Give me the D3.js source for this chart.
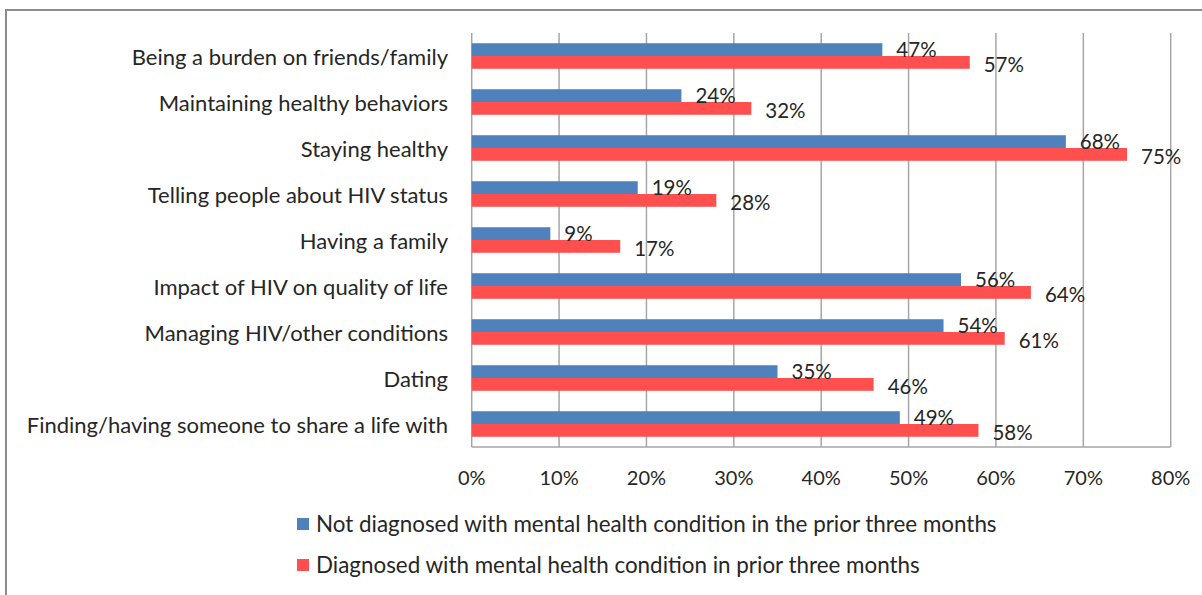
<!DOCTYPE html>
<html>
<head>
<meta charset="utf-8">
<title>Concerns by mental health diagnosis</title>
<script src="https://cdn.jsdelivr.net/npm/d3@7"></script>
<style>
    body { margin: 0; background: #fff; }
    text { font-family: Lato, "Open Sans", sans-serif; fill: #262626; }
</style>
</head>
<body>
<div id="chart"></div>
<script>
// chart data
var categories = [
    "Being a burden on friends/family",
    "Maintaining healthy behaviors",
    "Staying healthy",
    "Telling people about HIV status",
    "Having a family",
    "Impact of HIV on quality of life",
    "Managing HIV/other conditions",
    "Dating",
    "Finding/having someone to share a life with"
];
var notDiagnosed = [47, 24, 68, 19, 9, 56, 54, 35, 49];
var diagnosed = [57, 32, 75, 28, 17, 64, 61, 46, 58];
var seriesNames = [
    "Not diagnosed with mental health condition in the prior three months",
    "Diagnosed with mental health condition in prior three months"
];
var xTicks = [0, 10, 20, 30, 40, 50, 60, 70, 80];

var colors = ["#4F81BD", "#FF4F4F"];
var W = 1202, H = 595;

var svg = d3.select("#chart").append("svg")
    .attr("width", W)
    .attr("height", H);

// outer frame (runs off right and bottom edges like the original)
svg.append("rect")
    .attr("x", 6).attr("y", 10)
    .attr("width", W + 10).attr("height", H + 10)
    .attr("fill", "none")
    .attr("stroke", "#8c8c8c")
    .attr("stroke-width", 2);

var x = d3.scaleLinear().domain([0, 80]).range([471.7, 1170.7]);
var y = d3.scaleBand().domain(categories).range([33, 447])
    .paddingInner(0.8 / 1.8).paddingOuter(0.4 / 1.8);
var ySub = d3.scaleBand().domain([0, 1]).range([0, y.bandwidth()]);

// gridlines
svg.append("g").selectAll("line")
    .data(xTicks)
    .enter().append("line")
    .attr("x1", function(d) { return x(d); })
    .attr("x2", function(d) { return x(d); })
    .attr("y1", 33).attr("y2", 447)
    .attr("stroke", "#a6a6a6")
    .attr("stroke-width", 1.5);

// bottom axis line + labels
svg.append("line")
    .attr("x1", x(0)).attr("x2", x(80))
    .attr("y1", 447).attr("y2", 447)
    .attr("stroke", "#a6a6a6").attr("stroke-width", 1.5);

svg.append("g").selectAll("text")
    .data(xTicks)
    .enter().append("text")
    .attr("x", function(d) { return x(d); })
    .attr("y", 480)
    .attr("text-anchor", "middle")
    .attr("dominant-baseline", "middle")
    .style("font-size", "20px")
    .text(function(d) { return d + "%"; });

// category labels
svg.append("g").selectAll("text")
    .data(categories)
    .enter().append("text")
    .attr("x", 448)
    .attr("y", function(d) { return y(d) + y.bandwidth() / 2 + 3; })
    .attr("text-anchor", "end")
    .attr("dominant-baseline", "middle")
    .style("font-size", "22px")
    .text(function(d) { return d; });

var series = [notDiagnosed, diagnosed];

// bars first
series.forEach(function(vals, s) {
    svg.append("g").selectAll("rect")
        .data(vals)
        .enter().append("rect")
        .attr("x", x(0))
        .attr("y", function(d, i) { return y(categories[i]) + ySub(s); })
        .attr("width", function(d) { return x(d) - x(0); })
        .attr("height", ySub.bandwidth())
        .attr("fill", colors[s]);
});

// then value labels on top
series.forEach(function(vals, s) {
    svg.append("g").selectAll("text")
        .data(vals)
        .enter().append("text")
        .attr("x", function(d) { return x(d) + 14; })
        .attr("y", function(d, i) { return y(categories[i]) + ySub(s) + ySub.bandwidth() / 2 + (s ? 4 : 2); })
        .attr("dominant-baseline", "middle")
        .style("font-size", "20.5px")
        .text(function(d) { return d + "%"; });
});

// legend
var legend = svg.append("g").selectAll("g")
    .data(seriesNames)
    .enter().append("g")
    .attr("transform", function(d, i) { return "translate(297," + (524 + i * 41) + ")"; });

legend.append("rect")
    .attr("x", 0).attr("y", -6)
    .attr("width", 12).attr("height", 12)
    .attr("fill", function(d, i) { return colors[i]; });

legend.append("text")
    .attr("x", 19).attr("y", 2)
    .attr("dominant-baseline", "middle")
    .style("font-size", "22.4px")
    .text(function(d) { return d; });
</script>
</body>
</html>
